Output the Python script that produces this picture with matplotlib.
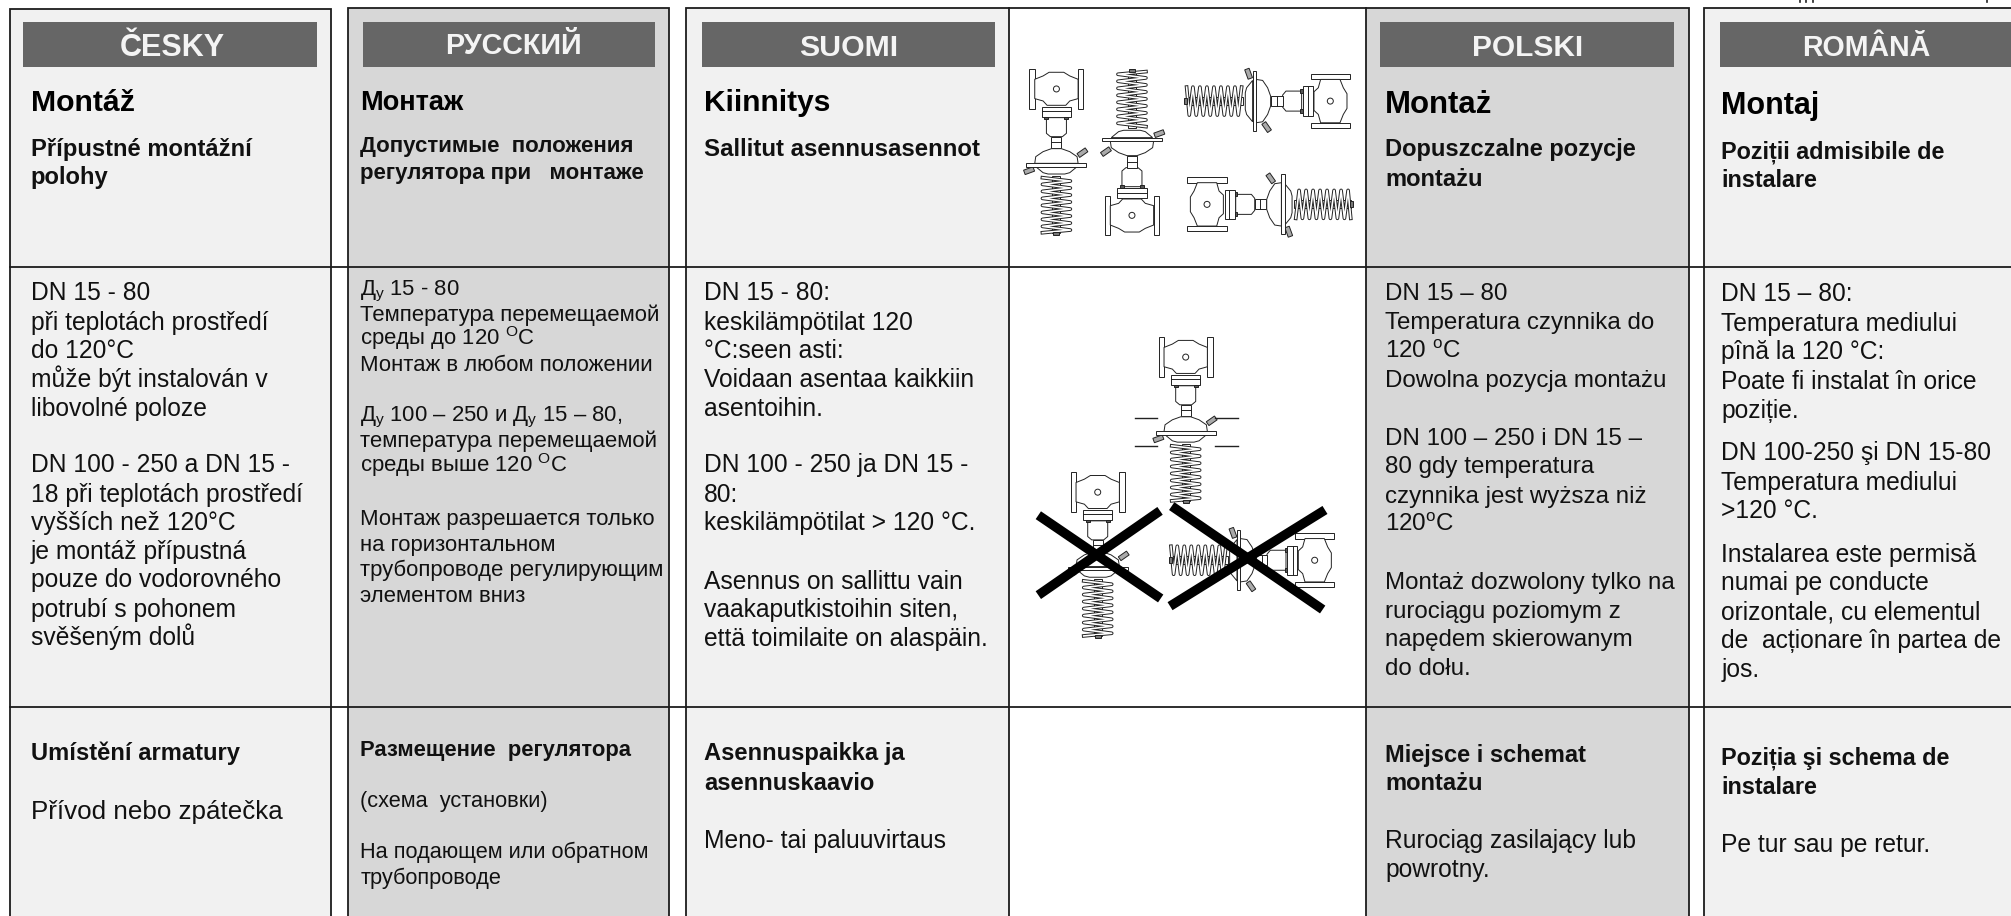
import matplotlib
matplotlib.use("Agg")
import matplotlib.pyplot as plt
from matplotlib.patches import Rectangle, Polygon, Circle
from matplotlib.lines import Line2D
from matplotlib.transforms import Affine2D

plt.rcParams['font.family'] = ['Liberation Sans', 'DejaVu Sans']
plt.rcParams['mathtext.fontset'] = 'custom'
plt.rcParams['mathtext.rm'] = 'Liberation Sans'

LANGS = ["ČESKY", "РУССКИЙ", "SUOMI", "POLSKI", "ROMÂNĂ"]
TITLES = ["Montáž", "Монтаж", "Kiinnitys", "Montaż", "Montaj"]
SUBS = [
    ["Přípustné montážní", "polohy"],
    ["Допустимые  положения", "регулятора при   монтаже"],
    ["Sallitut asennusasennot"],
    ["Dopuszczalne pozycje", "montażu"],
    ["Poziții admisibile de", "instalare"],
]
DY = r"Д$_{\mathregular{у}}$"
DEG = r"$^{\mathregular{O}}$C"
BODY = [
    ["DN 15 - 80", "při teplotách prostředí", "do 120°C", "může být instalován v", "libovolné poloze",
     "DN 100 - 250 a DN 15 -", "18 při teplotách prostředí", "vyšších než 120°C", "je montáž přípustná",
     "pouze do vodorovného", "potrubí s pohonem", "svěšeným dolů"],
    [DY + " 15 - 80", "Температура перемещаемой", "среды до 120 " + DEG, "Монтаж в любом положении",
     DY + " 100 – 250 и " + DY + " 15 – 80,", "температура перемещаемой", "среды выше 120 " + DEG,
     "Монтаж разрешается только", "на горизонтальном", "трубопроводе регулирующим", "элементом вниз"],
    ["DN 15 - 80:", "keskilämpötilat 120", "°C:seen asti:", "Voidaan asentaa kaikkiin", "asentoihin.",
     "DN 100 - 250 ja DN 15 -", "80:", "keskilämpötilat > 120 °C.", "Asennus on sallittu vain",
     "vaakaputkistoihin siten,", "että toimilaite on alaspäin."],
    ["DN 15 – 80", "Temperatura czynnika do", r"120 $^{\mathregular{o}}$C", "Dowolna pozycja montażu",
     "DN 100 – 250 i DN 15 –", "80 gdy temperatura", "czynnika jest wyższa niż", r"120$^{\mathregular{o}}$C",
     "Montaż dozwolony tylko na", "rurociągu poziomym z", "napędem skierowanym", "do dołu."],
    ["DN 15 – 80:", "Temperatura mediului", "pînă la 120 °C:", "Poate fi instalat în orice", "poziție.",
     "DN 100-250 şi DN 15-80", "Temperatura mediului", ">120 °C.", "Instalarea este permisă",
     "numai pe conducte", "orizontale, cu elementul", "de  acționare în partea de", "jos."],
]
FOOT_BOLD = [
    ["Umístění armatury"], ["Размещение  регулятора"], ["Asennuspaikka ja", "asennuskaavio"],
    ["Miejsce i schemat", "montażu"], ["Poziția şi schema de", "instalare"],
]
FOOT = [
    ["Přívod nebo zpátečka"], ["(схема  установки)", "На подающем или обратном", "трубопроводе"],
    ["Meno- tai paluuvirtaus"], ["Rurociąg zasilający lub", "powrotny."], ["Pe tur sau pe retur."],
]

# layout (pixels of a 1568-wide page)
COL_L = [8, 271, 535, 1065, 1329]
COL_R = [258, 522, 787, 1317, 1580]
COL_TOP = [7, 6, 6, 6, 6]
COL_BG = ["#f1f1f1", "#d7d7d7", "#f1f1f1", "#d7d7d7", "#f1f1f1"]
BAR_L = [18, 283, 547, 1076, 1341]
BAR_R = [247, 511, 776, 1305, 1580]
HDR_X = [134.5, 400, 662, 1191, 1455]
HDR_Y = [35, 34, 35, 35, 36]
HDR_FS = [22, 20.7, 21.8, 21.5, 20.6]
TXT_X = [24, 281, 549, 1080, 1342]
TITLE_Y = [78, 78, 78, 79, 80]
SUB_Y = [[115, 137], [112, 133], [115], [115, 138], [117, 139]]
BODY_Y = [
    [227, 250, 272, 295, 317, 361, 384, 406, 429, 451, 474, 496],
    [224, 244, 263, 283, 322, 342, 362, 403, 423, 443, 463],
    [227, 250, 272, 295, 317, 361, 384, 406, 452, 474, 497],
    [227, 250, 272, 295, 340, 362, 385, 407, 452, 475, 497, 519],
    [228, 251, 273, 296, 319, 352, 375, 397, 431, 453, 476, 498, 521],
]
FOOT_B_Y = [[586], [583], [586, 609], [587, 609], [589, 612]]
FOOT_Y = [[631], [623, 663, 683], [654], [654, 677], [657]]
BODY_FS = [17.75, 15.9, 17.75, 17.4, 17.75]
SUB_FS = [17.1, 16, 17.3, 17, 16.8]
FOOT_B_FS = [17.1, 15.8, 17.1, 17, 16.8]
FOOT_FS = [18.7, 15.7, 17.75, 17.75, 17.75]
TITLE_FS = [21.8, 19.5, 21.5, 22.4, 22]
LINE_C = "#1c1c1c"
TEXT_C = "#111111"

fig = plt.figure(figsize=(20.11, 9.16), dpi=100, facecolor="white")
ax = fig.add_axes([0, 0, 1, 1])
ax.set_xlim(0, 1568)
ax.set_ylim(714, 0)
ax.axis("off")


def put(x, y, s, fs, **kw):
    # y is the visual centre of the capitals: sit the baseline under it
    ax.text(x, y + 0.39 * fs, s, fontsize=fs, va="baseline", zorder=3, **kw)


for i in range(5):
    ax.add_patch(Rectangle((COL_L[i], COL_TOP[i]), COL_R[i] - COL_L[i], 720, fc=COL_BG[i], ec=LINE_C, lw=1.3, zorder=1))
    ax.add_patch(Rectangle((BAR_L[i], 17), BAR_R[i] - BAR_L[i], 35, fc="#666666", ec="none", zorder=2))
    put(HDR_X[i], HDR_Y[i], LANGS[i], HDR_FS[i], color="#f4f4f4", weight="bold", ha="center")
    put(TXT_X[i], TITLE_Y[i], TITLES[i], TITLE_FS[i], weight="bold", color="black")
    for t, y in zip(SUBS[i], SUB_Y[i]):
        put(TXT_X[i], y, t, SUB_FS[i], weight="bold", color=TEXT_C)
    for t, y in zip(BODY[i], BODY_Y[i]):
        put(TXT_X[i], y, t, BODY_FS[i], color=TEXT_C)
    for t, y in zip(FOOT_BOLD[i], FOOT_B_Y[i]):
        put(TXT_X[i], y, t, FOOT_B_FS[i], weight="bold", color=TEXT_C)
    for t, y in zip(FOOT[i], FOOT_Y[i]):
        put(TXT_X[i], y, t, FOOT_FS[i], color=TEXT_C)

# white middle panel border and the long rules
ax.add_line(Line2D([787, 1065], [6, 6], color=LINE_C, lw=1.3, zorder=4))
for y in (208, 551):
    ax.add_line(Line2D([8, 1568], [y, y], color=LINE_C, lw=1.3, zorder=4))

# tips of descenders from text cut off by the page's top edge
for x in (1403.5, 1408, 1413.5, 1549):
    ax.add_line(Line2D([x, x], [0, 1.5], color="#222222", lw=1.2, zorder=4))


def valve(x0, y0, rot):
    """Line drawing of a valve with actuator; local origin at the top of the axis."""
    tr = Affine2D().scale(0.26).rotate_deg(rot).translate(x0, y0) + ax.transData
    lw = 0.7
    kw = dict(fc="white", ec="#222222", lw=lw, transform=tr, zorder=5)
    coil_x = [-42, 42, -42, 42, -42, 42, -42, 42, -42, 42, -42, 42, -42, 42, -42, 42, -42]
    coil_y = [325, 335, 345, 356, 366, 377, 387, 398, 408, 419, 429, 440, 450, 461, 471, 482, 490]
    ax.add_patch(Rectangle((-12, 320), 24, 170, **kw))
    ax.add_line(Line2D(coil_x, coil_y, color="#222222", lw=2.6, transform=tr, zorder=6, solid_joinstyle="round"))
    ax.add_line(Line2D(coil_x, coil_y, color="white", lw=1.2, transform=tr, zorder=6, solid_joinstyle="round"))
    ax.add_patch(Rectangle((-9, 488), 18, 9, fc="#777777", ec="#222222", lw=lw, transform=tr, zorder=6))
    # flanges
    ax.add_patch(Rectangle((-81, 0), 16, 118, **kw))
    ax.add_patch(Rectangle((65, 0), 16, 118, **kw))
    # body
    ax.add_patch(Polygon([(-65, 30), (-40, 20), (-22, 9), (22, 9), (40, 20), (65, 30), (65, 88), (40, 95),
                          (28, 108), (-28, 108), (-40, 95), (-65, 88)], **kw))
    ax.add_patch(Circle((0, 59), 9, **kw))
    # bonnet flange and bolts
    ax.add_patch(Rectangle((-44, 112), 88, 30, **kw))
    ax.add_line(Line2D([-44, 44], [125, 125], color="#222222", lw=lw, transform=tr, zorder=6))
    ax.add_patch(Rectangle((-36, 142), 12, 7, fc="#555555", ec="#222222", lw=lw, transform=tr, zorder=6))
    ax.add_patch(Rectangle((24, 142), 12, 7, fc="#555555", ec="#222222", lw=lw, transform=tr, zorder=6))
    # bonnet and stem
    ax.add_patch(Polygon([(-30, 145), (30, 145), (30, 192), (18, 202), (-18, 202), (-30, 192)], **kw))
    ax.add_patch(Rectangle((-15, 202), 30, 34, **kw))
    ax.add_line(Line2D([-15, 15], [218, 218], color="#222222", lw=lw, transform=tr, zorder=6))
    # nipples
    for (cx, cy, a) in ((78, 250, -35), (-82, 304, -20)):
        nt = Affine2D().rotate_deg(a).translate(cx, cy) + tr
        ax.add_patch(Rectangle((-15, -7), 30, 14, fc="#aaaaaa", ec="#222222", lw=lw, transform=nt, zorder=5))
    # diaphragm housing
    ax.add_patch(Polygon([(-65, 282), (-62, 262), (-40, 247), (-15, 238), (15, 238), (40, 247), (62, 262), (65, 282)], **kw))
    ax.add_patch(Polygon([(-62, 292), (-40, 310), (-25, 314), (25, 314), (40, 310), (62, 292)], **kw))
    ax.add_patch(Rectangle((-90, 282), 180, 10, **kw))


VALVES = [(823.7, 54, 0), (882.6, 183.2, 180), (1052.6, 78.8, 90), (925.8, 159.3, -90),
          (924.5, 263, 0), (855.9, 368.3, 0), (1040.4, 436.7, 90)]
for v in VALVES:
    valve(*v)

DASH_X = [(885, 902), (947, 965)]
DASH_Y = [325.7, 347.8]
for a, b in DASH_X:
    for y in DASH_Y:
        ax.add_line(Line2D([a, b], [y, y], color="#222222", lw=1.0, zorder=5))

CROSS = [((809.6, 905.0), (401.6, 466.5)), ((809.6, 904.5), (463.9, 398.2)),
         ((913.6, 1031.3), (394.5, 475.1)), ((912.3, 1033.1), (472.5, 397.5))]
for xs, ys in CROSS:
    ax.add_line(Line2D(xs, ys, color="black", lw=6.8, solid_capstyle="butt", zorder=8))

fig.savefig("out.png", dpi=100, facecolor="white")
